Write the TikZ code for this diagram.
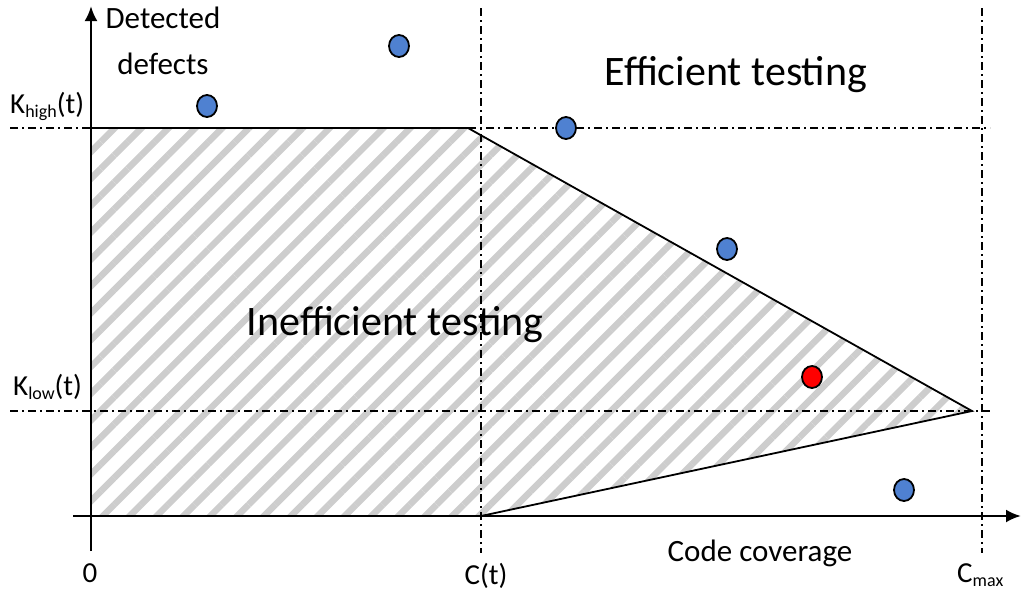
\documentclass[tikz,border=0pt]{standalone}
\usepackage{fontspec}
\setmainfont{Carlito}
\usepackage{xcolor}
\usetikzlibrary{positioning, arrows.meta, patterns.meta, shapes.geometric}

\definecolor{dotblue}{RGB}{79,129,209}
\definecolor{hatchgray}{RGB}{205,205,205}
\newcommand{\lowidx}[1]{\raisebox{-0.3ex}{\fontsize{18}{18}\selectfont #1}}

\begin{document}
\begin{tikzpicture}[x=1pt, y=-1pt,
    axis/.style={line width=2.6pt, -{Latex[length=15pt, width=13pt]}},
    guide/.style={line width=1.8pt, dash pattern=on 8pt off 4pt on 2pt off 4pt},
    edge/.style={line width=1.8pt},
    dot/.style={ellipse, draw, line width=1.8pt, fill=dotblue, minimum width=20pt, minimum height=22pt, inner sep=0pt},
    lbl/.style={font=\fontsize{29}{34}\selectfont, anchor=base, inner sep=0pt},
    big/.style={font=\fontsize{42}{48}\selectfont, anchor=base, inner sep=0pt}]
    \useasboundingbox (0,0) rectangle (1021,592);

    % Punkte
    \coordinate (O) at (91,516);
    \coordinate (kh) at (91,128);
    \coordinate (kink) at (468,128);
    \coordinate (tip) at (972,411);
    \coordinate (ct) at (481,516);

    % Schraffierte Fläche
    \fill[pattern={Lines[angle=45, distance=19pt, line width=6.5pt]}, pattern color=hatchgray]
        (kh) -- (kink) -- (tip) -- (ct) -- (O) -- cycle;

    % Hilfslinien
    \draw[guide] (10,128) -- (kh);
    \draw[guide] (kink) -- (990,128);
    \draw[guide] (10,411) -- (990,411);
    \draw[guide] (481,8) -- (481,553);
    \draw[guide] (982,8) -- (982,553);

    % Begrenzung
    \draw[edge] (kh) -- (kink) -- (tip) -- (ct);

    % Achsen
    \draw[axis] (73,516) -- (1021,516);
    \draw[axis] (91,551) -- (91,6);

    % Beschriftungen
    \node[font=\fontsize{31}{46}\selectfont, align=center] (ylab) at (163,41) {Detected\\defects};
    \node[lbl, anchor=base west] (khigh) at (10,113) {K\lowidx{high}(t)};
    \node[lbl, anchor=base west] (klow) at (13,395) {K\lowidx{low}(t)};
    \node[big] (eff) at (736,85) {Efficient testing};
    \node[big] (ineff) at (395,335) {Inefficient testing};
    \node[lbl, font=\fontsize{31}{36}\selectfont] (cov) at (760,561) {Code coverage};
    \node[lbl] (zero) at (90,582) {0};
    \node[lbl] (ctlab) at (486,584) {C(t)};
    \node[lbl, anchor=base west] (cmax) at (957,582) {C\lowidx{max}};

    % Messpunkte
    \node[dot] (p1) at (207,106) {};
    \node[dot] (p2) at (399,46) {};
    \node[dot] (p3) at (566,128) {};
    \node[dot] (p4) at (727,249) {};
    \node[dot, fill=red] (p5) at (812,377) {};
    \node[dot] (p6) at (904,490) {};
\end{tikzpicture}
\end{document}
